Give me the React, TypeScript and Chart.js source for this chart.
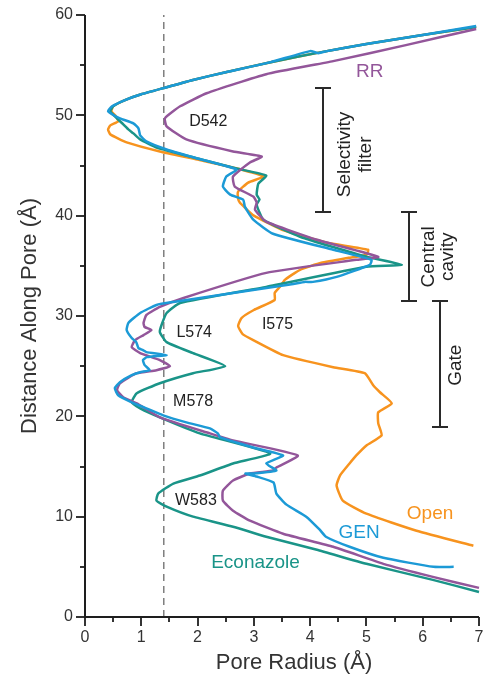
import React, { useEffect, useRef } from 'react';
import { Chart, registerables } from 'chart.js';

Chart.register(...registerables);

// ---------- data ----------
const openR = [6.95, 6.0, 5.0, 4.2, 3.3, 2.5, 1.9, 1.45, 1.0, 0.7, 0.5, 0.47, 0.55, 0.59, 0.45, 0.41, 0.45, 0.74, 1.33, 2.0, 2.7, 3.17, 2.9, 2.72, 2.72, 2.75, 2.84, 3.0, 3.5, 4.3, 5.03, 5.0, 4.68, 4.2, 3.82, 3.55, 3.46, 3.37, 3.37, 3.0, 2.78, 2.72, 2.8, 2.99, 3.52, 4.41, 4.97, 5.12, 5.24, 5.45, 5.21, 5.21, 5.27, 5.0, 4.82, 4.7, 4.53, 4.47, 4.58, 5.0, 5.89, 6.9];
const openD = [58.8, 58.0, 57.1, 56.3, 55.3, 54.3, 53.5, 52.8, 52.1, 51.5, 50.9, 50.4, 49.9, 49.4, 49.0, 48.6, 48.1, 47.3, 46.4, 45.6, 44.7, 43.9, 43.3, 42.4, 41.7, 41.3, 40.8, 40.0, 38.6, 37.3, 36.6, 36.1, 35.8, 35.3, 34.6, 33.6, 32.9, 32.3, 31.6, 30.6, 29.8, 29.0, 28.2, 27.6, 26.1, 24.9, 24.3, 23.1, 22.4, 21.3, 20.4, 19.3, 18.1, 17.1, 16.1, 15.3, 14.1, 13.1, 11.6, 10.3, 8.6, 7.1];

const genR = [6.95, 6.0, 5.0, 4.3, 4.15, 4.0, 3.3, 2.5, 1.9, 1.45, 1.0, 0.7, 0.48, 0.41, 0.62, 0.86, 0.95, 0.98, 1.09, 1.45, 2.0, 2.69, 2.51, 2.45, 2.58, 2.81, 2.84, 2.99, 3.34, 4.41, 5.09, 5.06, 4.47, 4.05, 3.9, 3.7, 2.63, 1.57, 1.27, 0.98, 0.77, 0.74, 0.83, 0.91, 0.95, 1.03, 1.09, 1.45, 1.1, 1.03, 1.06, 1.15, 0.98, 0.83, 0.62, 0.53, 0.59, 0.83, 1.09, 1.39, 1.8, 2.22, 2.36, 2.4, 2.99, 3.52, 3.22, 3.4, 3.0, 2.85, 3.05, 3.35, 3.4, 3.58, 3.93, 4.17, 4.28, 4.7, 5.3, 6.19, 6.55];
const genD = [58.9, 58.0, 57.1, 56.4, 56.2, 56.4, 55.3, 54.3, 53.5, 52.8, 52.1, 51.5, 50.9, 50.4, 49.7, 49.2, 48.7, 48.0, 47.4, 46.6, 45.7, 44.6, 43.9, 42.9, 42.1, 41.6, 40.9, 39.6, 38.2, 36.6, 35.6, 35.1, 33.9, 33.4, 33.4, 33.2, 32.3, 31.4, 31.1, 30.3, 29.3, 28.6, 27.8, 27.4, 26.8, 26.6, 26.4, 26.1, 25.9, 25.6, 25.1, 24.6, 24.4, 24.1, 23.4, 22.8, 22.1, 21.4, 20.8, 20.1, 19.4, 18.8, 18.3, 17.9, 16.9, 16.1, 15.3, 14.6, 14.3, 14.3, 14.0, 13.4, 12.3, 11.2, 10.0, 8.7, 8.0, 7.0, 5.9, 5.0, 5.0];

const econR = [6.95, 6.0, 5.0, 4.2, 3.3, 2.5, 1.9, 1.45, 1.0, 0.7, 0.5, 0.45, 0.55, 0.68, 0.77, 0.86, 0.98, 1.27, 2.0, 2.69, 3.22, 3.08, 3.05, 3.1, 3.05, 3.17, 3.82, 5.0, 5.63, 5.0, 3.22, 1.69, 1.45, 1.36, 1.33, 1.45, 1.92, 2.49, 1.92, 1.33, 0.92, 0.83, 0.98, 1.33, 2.04, 3.29, 2.63, 2.04, 1.57, 1.3, 1.27, 1.45, 1.92, 2.63, 3.22, 4.12, 5.0, 6.18, 7.0];
const econD = [58.8, 58.0, 57.1, 56.3, 55.3, 54.3, 53.5, 52.8, 52.1, 51.5, 50.9, 50.4, 49.8, 49.1, 48.6, 48.2, 47.6, 46.8, 45.7, 44.7, 44.0, 43.2, 42.1, 41.6, 41.1, 39.6, 37.9, 35.9, 35.1, 34.9, 32.9, 31.3, 30.3, 29.1, 28.4, 27.4, 26.3, 25.0, 24.3, 23.3, 22.3, 21.4, 20.8, 19.9, 18.3, 16.3, 15.3, 14.1, 13.3, 12.3, 11.6, 11.0, 10.0, 9.0, 8.0, 6.7, 5.3, 3.7, 2.5];

const rrR = [6.95, 5.7, 4.41, 3.22, 2.16, 1.69, 1.42, 1.45, 1.8, 2.63, 3.14, 2.93, 2.63, 2.66, 2.99, 3.05, 3.02, 3.22, 4.12, 5.21, 4.82, 3.22, 1.75, 1.33, 1.09, 1.04, 1.06, 1.18, 1.04, 0.89, 0.83, 0.98, 1.33, 1.51, 1.27, 0.92, 0.62, 0.57, 0.68, 0.92, 1.33, 2.22, 2.63, 3.78, 3.4, 3.34, 2.93, 2.63, 2.45, 2.45, 2.63, 2.93, 3.52, 4.41, 5.3, 6.18, 7.0];
const rrD = [58.6, 57.0, 55.4, 54.1, 52.2, 50.9, 49.7, 48.9, 47.6, 46.4, 45.9, 45.3, 43.9, 42.9, 41.9, 41.3, 40.6, 39.4, 37.6, 35.9, 35.6, 34.3, 31.8, 30.9, 30.1, 29.3, 28.9, 28.6, 28.1, 27.6, 26.9, 26.3, 25.6, 25.0, 24.6, 24.3, 23.3, 22.6, 21.9, 21.3, 19.9, 18.3, 17.6, 16.1, 14.9, 14.6, 14.3, 13.6, 12.6, 11.6, 10.6, 9.6, 8.3, 7.0, 5.3, 4.0, 2.9];

const thresholdR = 1.4;

const xTicks = [0, 1, 2, 3, 4, 5, 6, 7];
const xMinorTicks = [0.5, 1.5, 2.5, 3.5, 4.5, 5.5, 6.5];
const yTicks = [0, 10, 20, 30, 40, 50, 60];
const yMinorTicks = [5, 15, 25, 35, 45, 55];

const seriesNames = ['GEN', 'RR', 'Econazole', 'Open'];
const seriesColors = ['#1c9ad6', '#93569a', '#1a9488', '#f7931e'];

const curveLabels = [
  { text: 'RR', x: 5.06, y: 54.3, color: '#93569a' },
  { text: 'Open', x: 6.13, y: 10.3, color: '#f7931e' },
  { text: 'GEN', x: 4.87, y: 8.4, color: '#1c9ad6' },
  { text: 'Econazole', x: 3.03, y: 5.4, color: '#1a9488' },
];

const residueLabels = [
  { text: 'D542', x: 2.19, y: 49.4 },
  { text: 'L574', x: 1.94, y: 28.3 },
  { text: 'I575', x: 3.42, y: 29.1 },
  { text: 'M578', x: 1.92, y: 21.5 },
  { text: 'W583', x: 1.97, y: 11.6 },
];

const brackets = [
  { x: 4.23, y0: 40.4, y1: 52.7 },
  { x: 5.76, y0: 31.5, y1: 40.4 },
  { x: 6.3, y0: 18.9, y1: 31.5 },
];

const bracketLabels = [
  { text: 'Selectivity', x: 4.62, y: 46.1 },
  { text: 'filter', x: 4.99, y: 46.1 },
  { text: 'Central', x: 6.11, y: 35.9 },
  { text: 'cavity', x: 6.45, y: 35.9 },
  { text: 'Gate', x: 6.59, y: 25.1 },
];

const xTitle = 'Pore Radius (Å)';
const yTitle = 'Distance Along Pore (Å)';

const FONT = 'Arial, "Liberation Sans", Helvetica, sans-serif';

function pts(r: number[], d: number[]) {
  return r.map((v, i) => ({ x: v, y: d[i] }));
}

const decorPlugin = {
  id: 'decor',
  afterDraw(chart: any) {
    const ctx = chart.ctx;
    const xs = chart.scales.x;
    const ys = chart.scales.y;
    const area = chart.chartArea;
    ctx.save();
    const axisColor = '#1e1e1e';
    // axes
    ctx.strokeStyle = axisColor;
    ctx.lineWidth = 2;
    ctx.beginPath();
    ctx.moveTo(area.left, area.top);
    ctx.lineTo(area.left, area.bottom);
    ctx.lineTo(area.right, area.bottom);
    ctx.stroke();
    // ticks
    ctx.lineWidth = 1.8;
    const drawX = (v: number, len: number) => {
      const px = Math.round(xs.getPixelForValue(v));
      ctx.beginPath();
      ctx.moveTo(px, area.bottom);
      ctx.lineTo(px, area.bottom + len);
      ctx.stroke();
    };
    const drawY = (v: number, len: number) => {
      const py = Math.round(ys.getPixelForValue(v));
      ctx.beginPath();
      ctx.moveTo(area.left, py);
      ctx.lineTo(area.left - len, py);
      ctx.stroke();
    };
    xTicks.forEach((v) => drawX(v, 9));
    xMinorTicks.forEach((v) => drawX(v, 5));
    yTicks.forEach((v) => drawY(v, 9));
    yMinorTicks.forEach((v) => drawY(v, 5));
    // tick labels
    ctx.fillStyle = '#333';
    ctx.font = `16px ${FONT}`;
    ctx.textAlign = 'center';
    ctx.textBaseline = 'top';
    xTicks.forEach((v) => {
      ctx.fillText(String(v), xs.getPixelForValue(v), area.bottom + 13);
    });
    ctx.textAlign = 'right';
    ctx.textBaseline = 'middle';
    yTicks.forEach((v) => {
      ctx.fillText(String(v), area.left - 12, ys.getPixelForValue(v));
    });
    // axis titles
    ctx.font = `22px ${FONT}`;
    ctx.textAlign = 'center';
    ctx.textBaseline = 'middle';
    ctx.fillText(xTitle, 294, 663);
    ctx.save();
    ctx.translate(30, (area.top + area.bottom) / 2);
    ctx.rotate(-Math.PI / 2);
    ctx.fillText(yTitle, 0, 0);
    ctx.restore();
    // brackets
    ctx.strokeStyle = '#2a2a2a';
    ctx.lineWidth = 2;
    brackets.forEach((b) => {
      const px = Math.round(xs.getPixelForValue(b.x));
      const p0 = Math.round(ys.getPixelForValue(b.y0));
      const p1 = Math.round(ys.getPixelForValue(b.y1));
      ctx.beginPath();
      ctx.moveTo(px, p0);
      ctx.lineTo(px, p1);
      ctx.moveTo(px - 8, p0);
      ctx.lineTo(px + 8, p0);
      ctx.moveTo(px - 8, p1);
      ctx.lineTo(px + 8, p1);
      ctx.stroke();
    });
    ctx.fillStyle = '#222';
    ctx.font = `19px ${FONT}`;
    bracketLabels.forEach((l) => {
      ctx.save();
      ctx.translate(xs.getPixelForValue(l.x), ys.getPixelForValue(l.y));
      ctx.rotate(-Math.PI / 2);
      ctx.textAlign = 'center';
      ctx.textBaseline = 'middle';
      ctx.fillText(l.text, 0, 0);
      ctx.restore();
    });
    // residue labels
    ctx.font = `16px ${FONT}`;
    ctx.fillStyle = '#222';
    ctx.textAlign = 'center';
    ctx.textBaseline = 'middle';
    residueLabels.forEach((l) => {
      ctx.fillText(l.text, xs.getPixelForValue(l.x), ys.getPixelForValue(l.y));
    });
    // curve labels
    ctx.font = `19px ${FONT}`;
    curveLabels.forEach((l) => {
      ctx.fillStyle = l.color;
      ctx.fillText(l.text, xs.getPixelForValue(l.x), ys.getPixelForValue(l.y));
    });
    ctx.restore();
  },
};

export default function App() {
  const ref = useRef<HTMLCanvasElement | null>(null);
  useEffect(() => {
    if (!ref.current) return;
    const series = [pts(genR, genD), pts(rrR, rrD), pts(econR, econD), pts(openR, openD)];
    const datasets: any[] = series.map((data, i) => ({
      label: seriesNames[i],
      data,
      showLine: true,
      borderColor: seriesColors[i],
      backgroundColor: seriesColors[i],
      borderWidth: 2.5,
      pointRadius: 0,
      tension: 0.15,
      clip: false,
    }));
    datasets.push({
      label: 'threshold',
      data: [
        { x: thresholdR, y: 0 },
        { x: thresholdR, y: 60 },
      ],
      showLine: true,
      borderColor: '#6b6b6b',
      borderWidth: 1.3,
      borderDash: [7, 5],
      pointRadius: 0,
    });
    const chart = new Chart(ref.current, {
      type: 'scatter',
      data: { datasets },
      options: {
        responsive: false,
        animation: false,
        layout: { padding: { top: 15, right: 6, left: 0, bottom: 0 } },
        plugins: { legend: { display: false }, tooltip: { enabled: false } },
        scales: {
          x: {
            type: 'linear',
            min: 0,
            max: 7,
            grid: { display: false },
            border: { display: false },
            ticks: { display: false },
            afterFit: (s: any) => {
              s.height = 60;
            },
          },
          y: {
            type: 'linear',
            min: 0,
            max: 60,
            grid: { display: false },
            border: { display: false },
            ticks: { display: false },
            afterFit: (s: any) => {
              s.width = 85;
            },
          },
        },
      },
      plugins: [decorPlugin],
    });
    return () => chart.destroy();
  }, []);
  return (
    <div style={{ position: 'absolute', left: 0, top: 0, width: 485, height: 677, background: '#fff' }}>
      <canvas ref={ref} width={485} height={677} style={{ width: 485, height: 677 }} />
    </div>
  );
}
